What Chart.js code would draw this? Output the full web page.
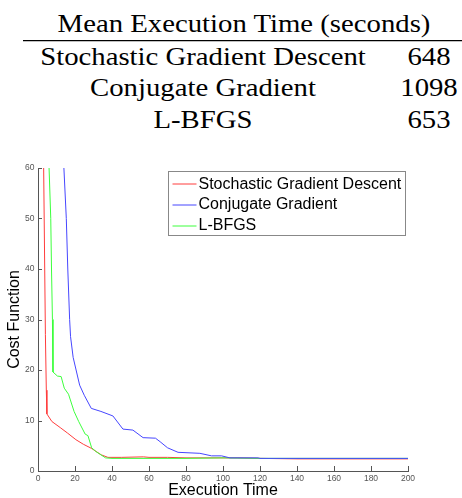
<!DOCTYPE html>
<html><head><meta charset="utf-8">
<script src="https://cdn.jsdelivr.net/npm/chart.js@4/dist/chart.umd.min.js"></script>
<style>
html,body{margin:0;padding:0;background:#fff;overflow:hidden;}
#wrap{position:relative;width:462px;height:498px;}
#tbl{position:absolute;left:0;top:0;}
#c{position:absolute;left:0;top:150px;}
</style></head><body>
<div id="wrap">
<svg id="tbl" width="462" height="150" xmlns="http://www.w3.org/2000/svg"></svg>
<canvas id="c" width="462" height="348"></canvas>
</div>
<script>
// ---- table data ----
const tableHeader = 'Mean Execution Time (seconds)';
const methods = ['Stochastic Gradient Descent', 'Conjugate Gradient', 'L-BFGS'];
const meanTimes = [648, 1098, 653];

// ---- chart data ----
const seriesNames = ['Stochastic Gradient Descent', 'Conjugate Gradient', 'L-BFGS'];
const sgdTime = [3, 4, 4.5, 4.8, 7.5, 12, 16, 20.5, 24.5, 28.8, 34.2, 37.8, 45, 57, 60, 70, 80, 100, 108, 120, 140, 160, 200];
const sgdCost = [62, 27, 16, 11.3, 9.8, 8.6, 7.5, 6.2, 5.3, 4.5, 3.2, 2.7, 2.7, 2.8, 2.7, 2.7, 2.6, 2.6, 2.6, 2.5, 2.4, 2.4, 2.4];
const cgTime = [13.5, 14, 15.3, 16.1, 17.1, 17.6, 19, 22.5, 25, 28.8, 34, 40.5, 45.9, 51.3, 56.8, 63.5, 66, 70, 75.7, 87.5, 93.8, 99.2, 103.7, 119, 120, 200];
const cgCost = [64, 60, 50, 40, 30, 26.6, 22.5, 17, 15, 12.4, 11.8, 10.9, 8.3, 8.1, 6.6, 6.5, 5.8, 4.6, 3.7, 3.5, 3.0, 3.0, 2.6, 2.6, 2.5, 2.5];
const lbfgsTime = [5.8, 6.9, 7.3, 7.8, 8.1, 10.5, 12.5, 14.2, 16.5, 19.5, 22, 25.5, 27, 29, 31.5, 36.5, 40, 60, 80, 100, 120, 195, 200];
const lbfgsCost = [62, 50, 40, 30, 19.6, 18.8, 18.7, 16.4, 15.2, 11.8, 9.8, 7.3, 7.0, 4.6, 3.8, 2.6, 2.5, 2.5, 2.5, 2.6, 2.5, 2.5, 2.5];
const xTickValues = [0, 20, 40, 60, 80, 100, 120, 140, 160, 180, 200];
const yTickValues = [0, 10, 20, 30, 40, 50, 60];

// ---- table (SVG text) ----
const NS = 'http://www.w3.org/2000/svg';
const svg = document.getElementById('tbl');
function addText(str, cx, base) {
  const g = document.createElementNS(NS, 'g');
  g.setAttribute('transform', 'translate(' + cx + ',' + base + ') scale(1.15,1)');
  const t = document.createElementNS(NS, 'text');
  t.setAttribute('x', 0); t.setAttribute('y', 0);
  t.setAttribute('text-anchor', 'middle');
  t.setAttribute('font-family', 'Liberation Serif');
  t.setAttribute('font-size', '25');
  t.setAttribute('fill', '#000');
  t.textContent = str;
  g.appendChild(t); svg.appendChild(g);
}
addText(tableHeader, 244, 31.7);
const rule = document.createElementNS(NS, 'line');
rule.setAttribute('x1', 23); rule.setAttribute('x2', 462);
rule.setAttribute('y1', 40.7); rule.setAttribute('y2', 40.7);
rule.setAttribute('stroke', '#000'); rule.setAttribute('stroke-width', '1.3');
svg.appendChild(rule);
const rowBase = [65, 95.5, 128.3];
methods.forEach((m, i) => { addText(m, 203, rowBase[i]); addText(String(meanTimes[i]), 429, rowBase[i]); });

// ---- chart ----
function pts(xs, ys) { return xs.map((x, i) => ({ x: x, y: ys[i] })); }
const colors = ['#ff3c3c', '#4646ff', '#3cff3c'];
const axisGray = '#555';

const inwardTicks = {
  id: 'inwardTicks',
  afterDatasetsDraw(chart) {
    const { ctx, chartArea: a, scales: { x, y } } = chart;
    ctx.save();
    ctx.strokeStyle = axisGray; ctx.lineWidth = 1;
    ctx.beginPath();
    x.ticks.forEach(t => { const px = Math.round(x.getPixelForValue(t.value)) + 0.5; ctx.moveTo(px, a.bottom); ctx.lineTo(px, a.bottom - 5); });
    y.ticks.forEach(t => { const py = Math.round(y.getPixelForValue(t.value)) + 0.5; ctx.moveTo(a.left, py); ctx.lineTo(a.left + 4, py); });
    ctx.stroke();
    ctx.restore();
  }
};

const boxLegend = {
  id: 'boxLegend',
  afterDatasetsDraw(chart) {
    const { ctx, chartArea: a } = chart;
    const w = 237, h = 64;
    const L = a.right - 3 - w + 0.5, T = a.top + 3.5;
    ctx.save();
    ctx.fillStyle = '#fff';
    ctx.fillRect(L, T, w, h);
    ctx.strokeStyle = '#888'; ctx.lineWidth = 1;
    ctx.strokeRect(L, T, w, h);
    ctx.font = '16px "Liberation Sans", Arial, sans-serif';
    ctx.textBaseline = 'middle';
    ctx.textAlign = 'left';
    chart.data.datasets.forEach((ds, i) => {
      const cy = T + 12.8 + i * 20.7;
      ctx.strokeStyle = ds.borderColor; ctx.lineWidth = 1;
      ctx.beginPath(); ctx.moveTo(L + 4, Math.round(cy)); ctx.lineTo(L + 28, Math.round(cy)); ctx.stroke();
      ctx.fillStyle = '#000';
      ctx.fillText(ds.label, L + 30, cy);
    });
    ctx.restore();
  }
};

const tickFont = { family: '"Liberation Sans", Arial, sans-serif', size: 8.5 };

new Chart(document.getElementById('c'), {
  type: 'line',
  data: {
    datasets: [
      { label: seriesNames[0], data: pts(sgdTime, sgdCost), borderColor: colors[0], order: 3 },
      { label: seriesNames[1], data: pts(cgTime, cgCost), borderColor: colors[1], order: 1 },
      { label: seriesNames[2], data: pts(lbfgsTime, lbfgsCost), borderColor: colors[2], order: 2 }
    ]
  },
  options: {
    responsive: false,
    animation: false,
    devicePixelRatio: 1,
    layout: { padding: { top: 18, right: 54, bottom: 0, left: 0 } },
    elements: { point: { radius: 0 }, line: { borderWidth: 1, tension: 0, fill: false } },
    plugins: { legend: { display: false }, tooltip: { enabled: false } },
    scales: {
      x: {
        type: 'linear', min: 0, max: 200,
        afterBuildTicks: s => { s.ticks = xTickValues.map(v => ({ value: v })); },
        afterFit: s => { s.height = 27; },
        grid: { display: false, drawTicks: false, tickLength: 0 },
        border: { display: true, color: axisGray, width: 1 },
        ticks: { font: tickFont, color: axisGray, padding: 3, maxRotation: 0 },
        title: { display: true, text: 'Execution Time', color: '#000',
          font: { family: '"Liberation Sans", Arial, sans-serif', size: 16, lineHeight: '14px' }, padding: 0 }
      },
      y: {
        type: 'linear', min: 0, max: 60,
        afterBuildTicks: s => { s.ticks = yTickValues.map(v => ({ value: v })); },
        afterFit: s => { s.width = 38; },
        grid: { display: false, drawTicks: false, tickLength: 0 },
        border: { display: true, color: axisGray, width: 1 },
        ticks: { font: tickFont, color: axisGray, padding: 3.5 },
        title: { display: true, text: 'Cost Function', color: '#000',
          font: { family: '"Liberation Sans", Arial, sans-serif', size: 16, lineHeight: '16px' }, padding: { top: 7, bottom: 0 } }
      }
    }
  },
  plugins: [inwardTicks, boxLegend]
});
</script>
</body></html>
